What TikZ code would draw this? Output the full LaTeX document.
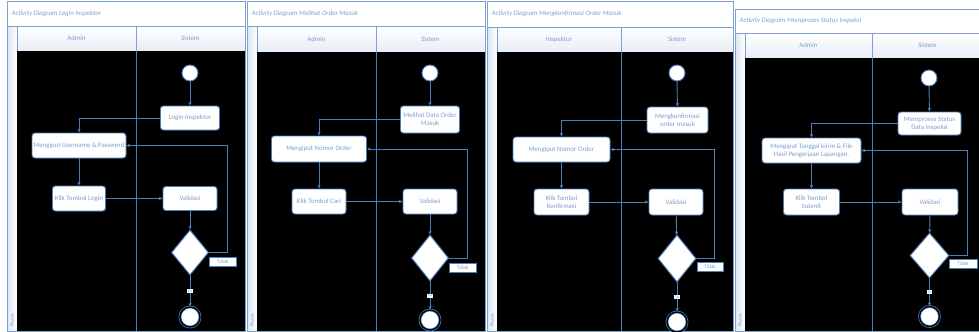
\documentclass[tikz,border=0pt]{standalone}
\usepackage{fontspec}
\setmainfont{Carlito}
\usepackage{tikz}
\usetikzlibrary{shapes.geometric,arrows.meta}

\definecolor{umlblue}{HTML}{4A7EBB}
\definecolor{umltext}{HTML}{7C9FD0}
\definecolor{umlframe}{HTML}{7DA2D2}
\definecolor{umllight}{HTML}{DCE6F2}

\newlength\gridu
\setlength\gridu{0.03cm}
\newcommand\actfont{\fontsize{5.8}{6.6}\selectfont}

\tikzset{
  act/.style={
    draw=umlblue,
    line width=0.8pt,
    fill=white,
    rounded corners=2.5pt,
    text=umltext,
    font=\actfont,
    align=center,
    inner sep=0.5pt,
    minimum height=25\gridu
  },
  startnode/.style={
    circle, draw=umlblue, line width=0.8pt, fill=white,
    minimum size=16\gridu, inner sep=0
  },
  endnode/.style={
    circle, draw=umlblue, line width=0.6pt,
    double=black, double distance=1.1pt,
    fill=white, minimum size=20\gridu, inner sep=0
  },
  decision/.style={
    diamond, draw=umlblue, line width=0.8pt, fill=white,
    minimum width=38\gridu, minimum height=46\gridu, inner sep=0
  },
  guard/.style={
    draw=umlblue, line width=0.6pt, fill=white, text=umltext,
    font=\fontsize{4.5}{5}\selectfont, inner sep=0,
    minimum width=27\gridu, minimum height=9\gridu
  },
  yalabel/.style={
    fill=white, text=umltext,
    font=\fontsize{3.8}{4}\selectfont, inner sep=0.5pt
  },
  flow/.style={
    draw=umlblue, line width=0.8pt,
    -{Stealth[length=3.2pt,width=2.8pt]}
  },
  lane/.style={draw=umlframe, line width=0.7pt},
  lanetext/.style={text=umltext, font=\actfont}
}

\begin{document}
\begin{tikzpicture}[x=0.03cm, y=-0.03cm]
  \useasboundingbox (0,0) rectangle (979,331);
  \clip (0,0) rectangle (979,331);
  \fill[white] (0,0) rectangle (979,331);

  % swimlane frames
  \foreach \xa/\xb/\xc/\ya/\yb/\yc/\ttl/\lanename [count=\i] in {
      7/136/245/1/26/51/Login Inspektor/Admin,
      247/376/485/1/26/52/Melihat Order Masuk/Admin,
      487/621/733/1/27/52/Mengkonfirmasi Order Masuk/Inspektor,
      735/872/983/9/33/58/Memproses Status Inspeksi/Admin}{
    \filldraw[lane, fill=white] (\xa,\ya) rectangle (\xc,\yb);
    \node[anchor=west, lanetext, font=\actfont\itshape] (title\i)
      at ({\xa+0.5},{(\ya+\yb)/2}) {Activity Diagram \ttl};
    \filldraw[lane, left color=umllight, right color=white]
      (\xa,\yb) rectangle ({\xa+10},331);
    \node[rotate=90, anchor=west, lanetext, font=\fontsize{4.4}{5}\selectfont,
      inner sep=0] (phase\i) at ({\xa+5},327) {Phase};
    \filldraw[lane, top color=white, bottom color=umllight!70]
      ({\xa+10},\yb) rectangle (\xb,\yc);
    \filldraw[lane, top color=white, bottom color=umllight!70]
      (\xb,\yb) rectangle (\xc,\yc);
    \node[lanetext] (lanea\i) at ({(\xa+10+\xb)/2},{(\yb+\yc)/2}) {\lanename};
    \node[lanetext] (laneb\i) at ({(\xb+\xc)/2},{(\yb+\yc)/2}) {Sistem};
    \fill[black] ({\xa+10},\yc) rectangle (\xc,331);
    \draw[lane, draw=umlblue] (\xb,\yc) -- (\xb,331);
    \draw[lane] (\xa,\ya) rectangle (\xc,331);
  }

  % login inspektor
  \node[startnode] (s1) at (190,73) {};
  \node[act, minimum width=59\gridu, minimum height=24\gridu] (a1) at (190,118) {Login Inspektor};
  \node[act, minimum width=94\gridu] (b1) at (79,145.5) {Mengiput Username \& Password};
  \node[act, minimum width=53\gridu] (c1) at (79,198.5) {Klik Tombol Login};
  \node[act, minimum width=54\gridu, minimum height=24\gridu] (v1) at (190,198.5) {Validasi};
  \node[decision, minimum width=37\gridu, minimum height=45\gridu] (d1) at (190,252.5) {};
  \node[endnode] (e1) at (190,317) {};
  \node[guard] (t1) at (222.5,261.5) {Tidak};
  \draw[flow] (s1) -- (a1);
  \draw[flow] (a1.west) -| (b1.north);
  \draw[flow] (b1) -- (c1);
  \draw[flow] (c1) -- (v1);
  \draw[flow] (v1) -- (d1);
  \draw[flow] (d1) -- node[yalabel] (y1) {Ya} (e1);
  \draw[flow] (d1.east) -- ++(18,0) |- (b1.east);

  % melihat order masuk
  \node[startnode] (s2) at (430,73) {};
  \node[act, minimum width=59\gridu, minimum height=27\gridu] (a2) at (430,119.5) {Melihat Data Order\\Masuk};
  \node[act, minimum width=95\gridu, minimum height=26\gridu] (b2) at (319,149) {Mengiput Nomor Order};
  \node[act, minimum width=54\gridu] (c2) at (319,201.5) {Klik Tombol Cari};
  \node[act, minimum width=54\gridu] (v2) at (430,201.5) {Validasi};
  \node[decision, minimum width=37\gridu] (d2) at (430,258) {};
  \node[endnode] (e2) at (430,320) {};
  \node[guard] (t2) at (462.5,267.5) {Tidak};
  \draw[flow] (s2) -- (a2);
  \draw[flow] (a2.west) -| (b2.north);
  \draw[flow] (b2) -- (c2);
  \draw[flow] (c2) -- (v2);
  \draw[flow] (v2) -- (d2);
  \draw[flow] (d2) -- node[yalabel] (y2) {Ya} (e2);
  \draw[flow] (d2.east) -- ++(18,0) |- (b2.east);

  % mengkonfirmasi order masuk
  \node[startnode] (s3) at (677,73) {};
  \node[act, minimum width=61\gridu, minimum height=26\gridu] (a3) at (677.5,120) {Mengkonfirmasi\\order masuk};
  \node[act, minimum width=97\gridu] (b3) at (561.5,149.5) {Mengiput Nomor Order};
  \node[act, minimum width=55\gridu, minimum height=26\gridu] (c3) at (561.5,202) {Klik Tombol\\Konfirmasi};
  \node[act, minimum width=54\gridu, minimum height=26\gridu] (v3) at (676,202) {Validasi};
  \node[decision, minimum height=47\gridu] (d3) at (677,258.5) {};
  \node[endnode] (e3) at (677,322) {};
  \node[guard, minimum width=26\gridu] (t3) at (710,267) {Tidak};
  \draw[flow] (s3) -- (a3);
  \draw[flow] (a3.west) -| (b3.north);
  \draw[flow] (b3) -- (c3);
  \draw[flow] (c3) -- (v3);
  \draw[flow] (v3) -- (d3);
  \draw[flow] (d3) -- node[yalabel] (y3) {Ya} (e3);
  \draw[flow] (d3.east) -- ++(18,0) |- (b3.east);

  % memproses status inspeksi
  \node[startnode] (s4) at (929,78) {};
  \node[act, minimum width=63\gridu, minimum height=23\gridu] (a4) at (929.5,123.5) {Memproses Status\\Data Inspeksi};
  \node[act, minimum width=99\gridu] (b4) at (811.5,150.5) {Mengiput Tanggal kirim \& File\\Hasil Pengerjaan Lapangan.};
  \node[act, minimum width=56\gridu, minimum height=26\gridu] (c4) at (811.5,202) {Klik Tombol\\Submit};
  \node[act, minimum width=56\gridu, minimum height=26\gridu] (v4) at (930,202) {Validasi};
  \node[decision, minimum width=39\gridu, minimum height=45\gridu] (d4) at (929.5,255.5) {};
  \node[endnode] (e4) at (929.5,316.5) {};
  \node[guard, minimum width=28\gridu] (t4) at (963,263.5) {Tidak};
  \draw[flow] (s4) -- (a4);
  \draw[flow] (a4.west) -| (b4.north);
  \draw[flow] (b4) -- (c4);
  \draw[flow] (c4) -- (v4);
  \draw[flow] (v4) -- (d4);
  \draw[flow] (d4) -- node[yalabel] (y4) {Ya} (e4);
  \draw[flow] (d4.east) -- ++(18,0) |- (b4.east);
\end{tikzpicture}
\end{document}
